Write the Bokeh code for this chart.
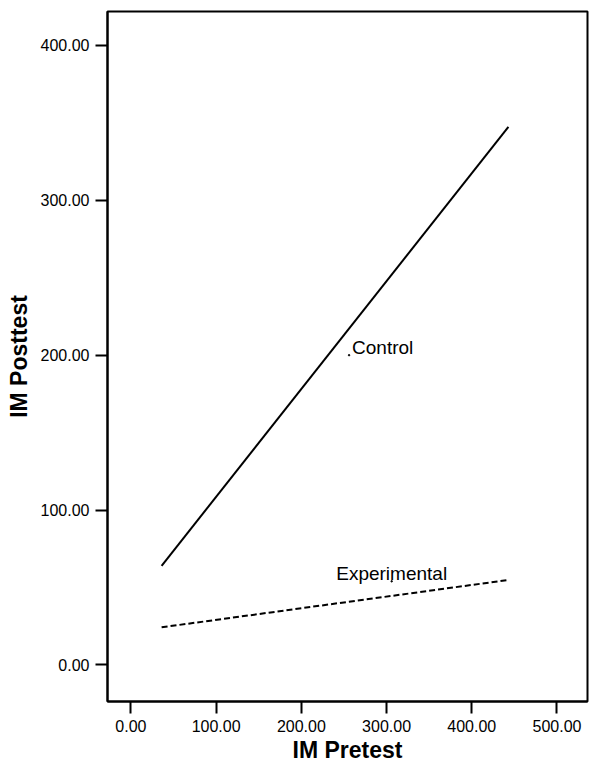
from bokeh.plotting import figure
from bokeh.models import Range1d, FixedTicker, NumeralTickFormatter
from bokeh.core.properties import value
from bokeh.embed import file_html
from bokeh.resources import INLINE

# data
control_x = [36, 443]
control_y = [64, 347.4]
exp_x = [36, 442]
exp_y = [24.3, 54.8]
label_names = ["Control", "Experimental"]
label_x = [256, 306]
label_y = [200, 54]
x_ticks = [0, 100, 200, 300, 400, 500]
y_ticks = [0, 100, 200, 300, 400]

FONT = "Liberation Sans"

p = figure(width=591, height=765, output_backend="svg", toolbar_location=None,
           x_range=Range1d(-27.5, 535.8), y_range=Range1d(-23.6, 421.9),
           min_border_left=107, min_border_right=4, min_border_top=11, min_border_bottom=64)
p.grid.visible = False
p.outline_line_color = "black"
p.outline_line_width = 2
p.background_fill_color = "white"
p.border_fill_color = "white"

for ax in (p.xaxis[0], p.yaxis[0]):
    ax.axis_line_color = "black"
    ax.axis_line_width = 2
    ax.major_tick_line_color = "black"
    ax.major_tick_line_width = 2
    ax.major_tick_in = 0
    ax.major_tick_out = 12
    ax.minor_tick_line_color = None
    ax.formatter = NumeralTickFormatter(format="0.00")
    ax.major_label_text_font = FONT
    ax.major_label_text_font_size = "16px"
    ax.major_label_text_color = "black"
    ax.axis_label_text_font = FONT
    ax.axis_label_text_font_size = "23px"
    ax.axis_label_text_font_style = "bold"
    ax.axis_label_text_color = "black"

p.xaxis[0].ticker = FixedTicker(ticks=x_ticks)
p.yaxis[0].ticker = FixedTicker(ticks=y_ticks)
p.xaxis[0].axis_label = "IM Pretest"
p.yaxis[0].axis_label = "IM Posttest"
p.xaxis[0].major_label_standoff = 6
p.xaxis[0].axis_label_standoff = 2
p.yaxis[0].major_label_standoff = 6
p.yaxis[0].axis_label_standoff = 6

p.line(control_x, control_y, line_color="black", line_width=2)
p.line(exp_x, exp_y, line_color="black", line_width=2, line_dash="6 3")

# small anchor marks of the labels
p.scatter(label_x, label_y, size=1.5, color="black")

p.text([label_x[0]], [label_y[0]], text=[label_names[0]], text_font=value(FONT),
       text_font_size="19px", text_color="black", text_align="left",
       text_baseline="alphabetic", x_offset=3, y_offset=-8)
p.text([label_x[1]], [label_y[1]], text=[label_names[1]], text_font=value(FONT),
       text_font_size="19px", text_color="black", text_align="center",
       text_baseline="alphabetic", x_offset=0, y_offset=-8)

open("out.html", "w").write(file_html(p, INLINE))
